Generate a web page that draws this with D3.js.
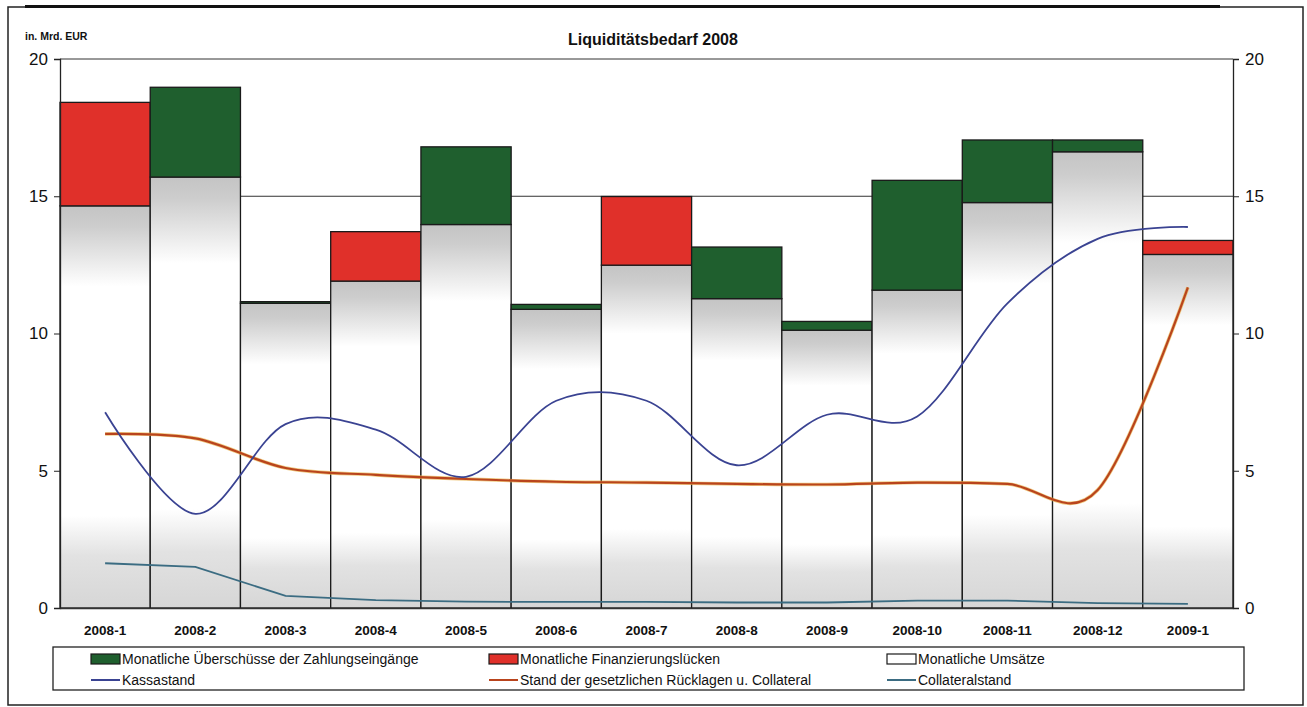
<!DOCTYPE html>
<html><head><meta charset="utf-8">
<script src="https://cdn.jsdelivr.net/npm/d3@7"></script>
<style>
body{margin:0;background:#fff}
svg{display:block}
text{font-family:Arial,"Liberation Sans",sans-serif;fill:#111}
</style>
</head><body>
<svg id="c" width="1307" height="707"></svg>
<script>
const categories = ["2008-1","2008-2","2008-3","2008-4","2008-5","2008-6","2008-7","2008-8","2008-9","2008-10","2008-11","2008-12","2009-1"];
const umsaetze      = [14.65, 15.70, 11.10, 11.91, 13.97, 10.88, 12.49, 11.27, 10.12, 11.58, 14.77, 16.62, 12.88];
const ueberschuesse = [0, 3.27, 0.06, 0, 2.83, 0.18, 0, 1.88, 0.32, 4.00, 2.28, 0.43, 0];
const luecken       = [3.77, 0, 0, 1.80, 0, 0, 2.50, 0, 0, 0, 0, 0, 0.51];
const kassastand    = [7.13, 3.43, 6.70, 6.50, 4.78, 7.55, 7.55, 5.20, 7.04, 6.98, 11.10, 13.45, 13.88];
const ruecklagen    = [6.34, 6.18, 5.10, 4.85, 4.70, 4.60, 4.57, 4.52, 4.50, 4.57, 4.52, 4.30, 11.68];
const collateral    = [1.63, 1.50, 0.44, 0.29, 0.23, 0.22, 0.22, 0.20, 0.20, 0.27, 0.27, 0.18, 0.15];
const yTicks = [0, 5, 10, 15, 20];
const seriesNames = ["Monatliche Überschüsse der Zahlungseingänge","Monatliche Finanzierungslücken","Monatliche Umsätze","Kassastand","Stand der gesetzlichen Rücklagen u. Collateral","Collateralstand"];
const title = "Liquiditätsbedarf 2008";
const unit = "in. Mrd. EUR";

const C = {green:"#1f5f2e", red:"#e0302a", blue:"#3a4392", orange:"#b9441d", teal:"#3b6c82"};

const svg = d3.select("#c");
const P = {l:60, r:1233, t:59, b:608};
const x = d3.scaleBand().domain(categories).range([P.l, P.r]).padding(0);
const y = d3.scaleLinear().domain([0, 20]).range([P.b, P.t]);

// gradient for Umsaetze
const defs = svg.append("defs");
const g = defs.append("linearGradient").attr("id","ums").attr("x1",0).attr("y1",0).attr("x2",0).attr("y2",1);
[[0,"#c4c4c4"],[0.05,"#cdcdcd"],[0.2,"#ffffff"],[0.77,"#ffffff"],[0.87,"#e2e2e2"],[1,"#d6d6d6"]]
  .forEach(([o,c]) => g.append("stop").attr("offset",o).attr("stop-color",c));

// outer frame
svg.append("rect").attr("x",8).attr("y",7).attr("width",1295).attr("height",698)
  .attr("fill","none").attr("stroke","#222").attr("stroke-width",1.5);
svg.append("line").attr("x1",25).attr("x2",1220).attr("y1",6.5).attr("y2",6.5)
  .attr("stroke","#111").attr("stroke-width",3);

// title & unit
svg.append("text").attr("x",653).attr("y",45).attr("text-anchor","middle")
  .attr("font-size",16).attr("font-weight","bold").text(title);
svg.append("text").attr("x",25).attr("y",40).attr("font-size",10.5).attr("font-weight","bold").text(unit);

// gridlines
svg.append("g").selectAll("line").data(yTicks.filter(d => d > 0)).join("line")
  .attr("x1",P.l).attr("x2",P.r).attr("y1",d => y(d)).attr("y2",d => y(d))
  .attr("stroke","#333").attr("stroke-width",1);

// bars
const bars = svg.append("g");
categories.forEach((c, i) => {
  const x0 = x(c), w = x.bandwidth();
  bars.append("rect").attr("x",x0).attr("y",y(umsaetze[i])).attr("width",w)
    .attr("height",y(0) - y(umsaetze[i])).attr("fill","url(#ums)").attr("stroke","#1a1a1a").attr("stroke-width",1.3);
  let base = umsaetze[i];
  if (ueberschuesse[i] > 0) {
    bars.append("rect").attr("x",x0).attr("y",y(base + ueberschuesse[i])).attr("width",w)
      .attr("height",y(base) - y(base + ueberschuesse[i])).attr("fill",C.green).attr("stroke","#1a1a1a").attr("stroke-width",1.3);
    base += ueberschuesse[i];
  }
  if (luecken[i] > 0) {
    bars.append("rect").attr("x",x0).attr("y",y(base + luecken[i])).attr("width",w)
      .attr("height",y(base) - y(base + luecken[i])).attr("fill",C.red).attr("stroke","#1a1a1a").attr("stroke-width",1.3);
  }
});

// lines
const cx = c => x(c) + x.bandwidth() / 2;
const smooth = d3.line().x((d,i) => cx(categories[i])).y(d => y(d)).curve(d3.curveCardinal.tension(0));
const straight = d3.line().x((d,i) => cx(categories[i])).y(d => y(d));
svg.append("path").attr("d",straight(collateral)).attr("fill","none").attr("stroke",C.teal).attr("stroke-width",1.8);
svg.append("path").attr("d",smooth(ruecklagen)).attr("fill","none").attr("stroke","#e8b24a").attr("stroke-width",3.6).attr("opacity",0.7);
svg.append("path").attr("d",smooth(ruecklagen)).attr("fill","none").attr("stroke",C.orange).attr("stroke-width",2.2);
svg.append("path").attr("d",smooth(kassastand)).attr("fill","none").attr("stroke",C.blue).attr("stroke-width",1.8);

// axes
const yl = svg.append("g").attr("transform",`translate(${P.l},0)`)
  .call(d3.axisLeft(y).tickValues(yTicks).tickSize(6).tickPadding(6).tickFormat(d3.format("d")));
const yr = svg.append("g").attr("transform",`translate(${P.r},0)`)
  .call(d3.axisRight(y).tickValues(yTicks).tickSize(6).tickPadding(6).tickFormat(d3.format("d")));
[yl, yr].forEach(a => {
  a.select(".domain").attr("stroke","#222").attr("stroke-width",1.3);
  a.selectAll(".tick line").attr("stroke","#222");
  a.selectAll("text").attr("font-size",17).attr("fill","#111").style("font-family","Arial, 'Liberation Sans', sans-serif");
});
const xa = svg.append("g").attr("transform",`translate(0,${P.b})`)
  .call(d3.axisBottom(x).tickSize(0).tickPadding(17));
xa.select(".domain").attr("stroke","#333").attr("stroke-width",1.6);
xa.selectAll("text").attr("font-size",13.5).attr("font-weight","bold").attr("fill","#111")
  .style("font-family","Arial, 'Liberation Sans', sans-serif");

// legend
const L = svg.append("g");
L.append("rect").attr("x",53).attr("y",647).attr("width",1191).attr("height",43)
  .attr("fill","#fff").attr("stroke","#222").attr("stroke-width",1.3);
const colX = [91, 489, 887];
const rowY = [659, 680];
const items = [
  {name:seriesNames[0], type:"rect", fill:C.green},
  {name:seriesNames[1], type:"rect", fill:C.red},
  {name:seriesNames[2], type:"rect", fill:"#fff"},
  {name:seriesNames[3], type:"line", stroke:C.blue},
  {name:seriesNames[4], type:"line", stroke:C.orange},
  {name:seriesNames[5], type:"line", stroke:C.teal}
];
items.forEach((it, k) => {
  const cxp = colX[k % 3], cyp = rowY[Math.floor(k / 3)];
  if (it.type === "rect") {
    L.append("rect").attr("x",cxp).attr("y",cyp - 5).attr("width",29).attr("height",10)
      .attr("fill",it.fill).attr("stroke","#1a1a1a").attr("stroke-width",1.2);
  } else {
    L.append("line").attr("x1",cxp).attr("x2",cxp + 29).attr("y1",cyp).attr("y2",cyp)
      .attr("stroke",it.stroke).attr("stroke-width",2);
  }
  L.append("text").attr("x",cxp + 31).attr("y",cyp).attr("dy","0.35em").attr("font-size",14).text(it.name);
});
</script>
</body></html>
